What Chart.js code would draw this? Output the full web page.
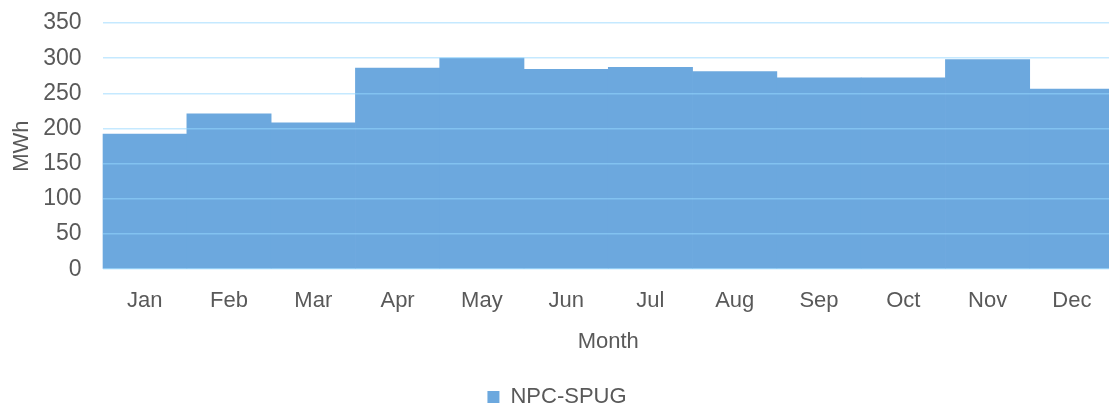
<!DOCTYPE html>
<html>
<head>
<meta charset="utf-8">
<script src="https://cdn.jsdelivr.net/npm/chart.js@4"></script>
<style>
  html, body { margin: 0; padding: 0; background: #fff; overflow: hidden; }
  #wrap { width: 1114px; height: 418px; }
</style>
</head>
<body>
<div id="wrap"><canvas id="chart"></canvas></div>
<script>
var months = ['Jan', 'Feb', 'Mar', 'Apr', 'May', 'Jun', 'Jul', 'Aug', 'Sep', 'Oct', 'Nov', 'Dec'];
var npcSpug = [192, 221, 208, 286, 300, 284, 287, 281, 272, 272, 298, 256];
var seriesName = 'NPC-SPUG';

var textColor = '#595959';
var font = { family: 'Liberation Sans, Arial, sans-serif', size: 22 };

var ctx = document.getElementById('chart').getContext('2d');
var myChart = new Chart(ctx, {
    type: 'bar',
    data: {
        labels: months,
        datasets: [{
            label: seriesName,
            data: npcSpug,
            backgroundColor: '#6ca8de',
            borderWidth: 0,
            barPercentage: 1,
            categoryPercentage: 1
        }]
    },
    options: {
        responsive: true,
        maintainAspectRatio: false,
        animation: false,
        events: [], /* static picture */
        layout: { padding: { top: 23, left: 0, right: 0, bottom: 0 } },
        scales: {
            x: {
                grid: { display: false, drawTicks: true, tickLength: 6 },
                border: { display: false },
                ticks: { color: textColor, font: font, padding: 13 },
                title: { display: true, text: 'Month', color: textColor, font: font, padding: { top: 1, bottom: 27 } }
            },
            y: {
                min: 0,
                max: 350,
                ticks: { stepSize: 50, color: textColor, font: { family: font.family, size: 23 }, padding: 0 },
                grid: {
                    color: 'rgba(150,215,255,0.55)', lineWidth: 1.5, z: 1,
                    drawTicks: true, tickLength: 21, tickColor: 'rgba(0,0,0,0)'
                },
                border: { display: false },
                title: {
                    display: true, text: 'MWh', color: textColor,
                    font: { family: font.family, size: 22, lineHeight: 1.6 }, padding: 4
                }
            }
        },
        plugins: {
            legend: {
                position: 'bottom',
                labels: { color: textColor, font: font, boxWidth: 12, boxHeight: 12, padding: 4 }
            },
            tooltip: { enabled: false }
        }
    }
});
</script>
</body>
</html>
